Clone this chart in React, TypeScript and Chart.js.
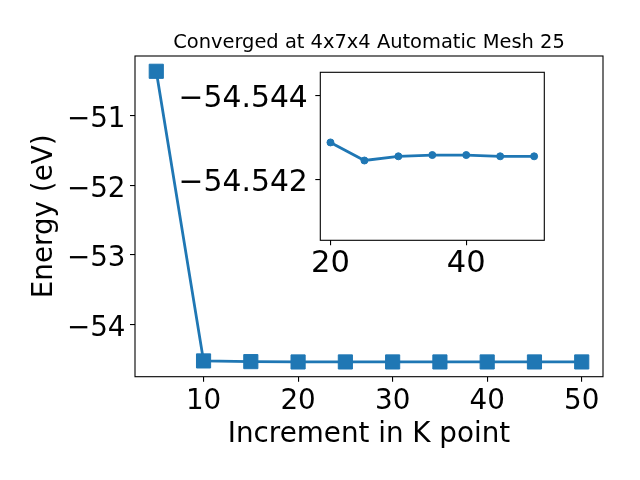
import React, { useEffect, useRef } from 'react';
import { Chart, registerables } from 'chart.js';

Chart.register(...registerables);

// ---- data ----
const kPoints = [5, 10, 15, 20, 25, 30, 35, 40, 45, 50];
const energies = [-50.36, -54.528, -54.538, -54.54288, -54.54245, -54.54255, -54.54258, -54.54258, -54.54255, -54.54255];
const insetKPoints = [20, 25, 30, 35, 40, 45, 50];
const insetEnergies = [-54.54288, -54.54245, -54.54255, -54.54258, -54.54258, -54.54255, -54.54255];
const mainXTicks = [10, 20, 30, 40, 50];
const mainYTicks = [-54, -53, -52, -51];
const insetXTicks = [20, 40];
const insetYTicks = [-54.544, -54.542];
const titleText = 'Converged at 4x7x4 Automatic Mesh 25';
const xLabel = 'Increment in K point';
const yLabel = 'Energy (eV)';

const FONT = "'DejaVu Sans', sans-serif";
const BLUE = '#1f77b4';

const fmtMinus = (v: number, digits: number) => {
  const s = Math.abs(v).toFixed(digits);
  return v < 0 ? '\u2212' + s : s;
};

const framePlugin = {
  id: 'frame',
  beforeDraw(chart: any, _a: any, opts: any) {
    if (opts && opts.fill) {
      const { left, top, right, bottom } = chart.chartArea;
      const ctx = chart.ctx;
      ctx.save();
      ctx.fillStyle = '#ffffff';
      ctx.fillRect(left, top, right - left, bottom - top);
      ctx.restore();
    }
  },
  afterDraw(chart: any, _a: any, opts: any) {
    const { left, top, right, bottom } = chart.chartArea;
    const ctx = chart.ctx;
    ctx.save();
    ctx.strokeStyle = '#000000';
    ctx.lineWidth = 1.1;
    ctx.strokeRect(left, top, right - left, bottom - top);
    ctx.fillStyle = '#000000';
    if (opts && opts.title) {
      ctx.font = `19.44px ${FONT}`;
      ctx.textAlign = 'center';
      ctx.textBaseline = 'alphabetic';
      ctx.fillText(opts.title, (left + right) / 2, 48);
    }
    if (opts && opts.yLabels) {
      const { values, digits, size, gap, dy } = opts.yLabels;
      const scale = chart.scales.y;
      ctx.font = `${size}px ${FONT}`;
      ctx.textAlign = 'right';
      ctx.textBaseline = 'alphabetic';
      values.forEach((v: number) => {
        const py = scale.getPixelForValue(v);
        ctx.fillText(fmtMinus(v, digits), left - gap, py + dy);
      });
    }
    ctx.restore();
  },
};

function setTicks(values: number[]) {
  return (scale: any) => {
    scale.ticks = values.map((v) => ({ value: v }));
  };
}

export default function App() {
  const mainRef = useRef<HTMLCanvasElement>(null);
  const insetRef = useRef<HTMLCanvasElement>(null);

  useEffect(() => {
    Chart.defaults.color = '#000000';
    Chart.defaults.font.family = FONT;

    const main = new Chart(mainRef.current as HTMLCanvasElement, {
      type: 'line',
      data: {
        datasets: [
          {
            data: kPoints.map((x, i) => ({ x, y: energies[i] })),
            borderColor: BLUE,
            backgroundColor: BLUE,
            borderWidth: 2.8,
            pointStyle: 'rect',
            pointRadius: 10,
            pointBorderWidth: 1,
            pointBorderColor: BLUE,
            pointBackgroundColor: BLUE,
            tension: 0,
            clip: false as any,
          },
        ],
      },
      options: {
        animation: false,
        responsive: false,
        events: [],
        layout: { padding: { left: 0, top: 56, right: 37, bottom: 0 } },
        plugins: {
          legend: { display: false },
          tooltip: { enabled: false },
          frame: { title: titleText, yLabels: { values: mainYTicks, digits: 0, size: 27.78, gap: 9.5, dy: 11.4 } },
        } as any,
        scales: {
          x: {
            type: 'linear',
            min: 2.75,
            max: 52.25,
            afterBuildTicks: setTicks(mainXTicks),
            afterFit: (s: any) => { s.height = 103.3; },
            grid: { drawOnChartArea: false, drawTicks: true, tickLength: 5, color: '#000', lineWidth: 1.1 },
            border: { display: false },
            ticks: { font: { size: 27.78 }, padding: 3, maxRotation: 0, autoSkip: false, callback: (v: any) => String(v) },
            title: { display: true, text: xLabel, font: { size: 27.78 }, padding: { top: 0, bottom: 29 } },
          },
          y: {
            type: 'linear',
            min: -54.755,
            max: -50.14,
            afterBuildTicks: setTicks(mainYTicks),
            afterFit: (s: any) => { s.width = 135; },
            grid: { drawOnChartArea: false, drawTicks: true, tickLength: 5, color: '#000', lineWidth: 1.1 },
            border: { display: false },
            ticks: { display: false },
            title: { display: true, text: yLabel, font: { size: 27.78 }, padding: { top: 28.6, bottom: 0 } },
          },
        },
      },
      plugins: [framePlugin],
    });

    const inset = new Chart(insetRef.current as HTMLCanvasElement, {
      type: 'line',
      data: {
        datasets: [
          {
            data: insetKPoints.map((x, i) => ({ x, y: insetEnergies[i] })),
            borderColor: BLUE,
            backgroundColor: BLUE,
            borderWidth: 2.8,
            pointStyle: 'circle',
            pointRadius: 3.5,
            pointBorderWidth: 1,
            pointBorderColor: BLUE,
            pointBackgroundColor: BLUE,
            tension: 0,
          },
        ],
      },
      options: {
        animation: false,
        responsive: false,
        events: [],
        layout: { padding: { left: 0, top: 32.3, right: 35.7, bottom: 0 } },
        plugins: {
          legend: { display: false },
          tooltip: { enabled: false },
          frame: { fill: true, yLabels: { values: insetYTicks, digits: 3, size: 29.8, gap: 12.5, dy: 11.4 } },
        } as any,
        scales: {
          x: {
            type: 'linear',
            min: 18.5,
            max: 51.5,
            afterBuildTicks: setTicks(insetXTicks),
            afterFit: (s: any) => { s.height = 59.7; },
            grid: { drawOnChartArea: false, drawTicks: true, tickLength: 5, color: '#000', lineWidth: 1.1 },
            border: { display: false },
            ticks: { font: { size: 30.56 }, padding: 0, maxRotation: 0, autoSkip: false, callback: (v: any) => String(v) },
          },
          y: {
            type: 'linear',
            reverse: true,
            min: -54.54455,
            max: -54.54055,
            afterBuildTicks: setTicks(insetYTicks),
            afterFit: (s: any) => { s.width = 160.3; },
            grid: { drawOnChartArea: false, drawTicks: true, tickLength: 5, color: '#000', lineWidth: 1.1 },
            border: { display: false },
            ticks: { display: false },
          },
        },
      },
      plugins: [framePlugin],
    });

    return () => {
      main.destroy();
      inset.destroy();
    };
  }, []);

  return (
    <div style={{ position: 'fixed', left: 0, top: 0, width: 640, height: 480, background: '#ffffff', overflow: 'hidden' }}>
      <canvas ref={mainRef} width={640} height={480} style={{ position: 'absolute', left: 0, top: 0, width: 640, height: 480 }} />
      <canvas ref={insetRef} width={420} height={260} style={{ position: 'absolute', left: 160, top: 40, width: 420, height: 260 }} />
    </div>
  );
}
